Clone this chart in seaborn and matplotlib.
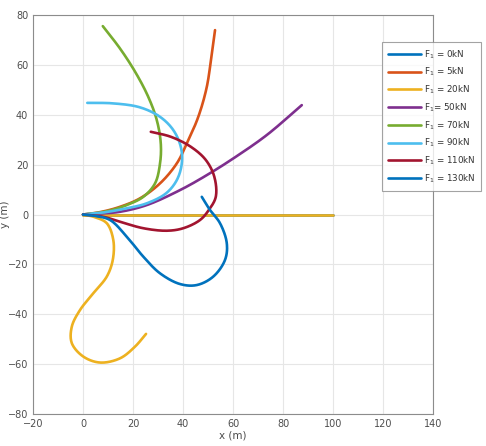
import numpy as np
import pandas as pd
import seaborn as sns
import matplotlib
matplotlib.use("Agg")
import matplotlib.pyplot as plt
from matplotlib.lines import Line2D

labels = ["F$_1$ = 0kN", "F$_1$ = 5kN", "F$_1$ = 20kN", "F$_1$= 50kN",
          "F$_1$ = 70kN", "F$_1$ = 90kN", "F$_1$ = 110kN", "F$_1$ = 130kN"]
colors = ["#0072BD", "#D95319", "#EDB120", "#7E2F8E",
          "#77AC30", "#4DBEEE", "#A2142F", "#0072BD"]

# trajectories (x, y) in metres
x_0 = [0, 100]
y_0 = [0, 0]
x_5 = [0, 7, 14.8, 22.8, 30.8, 37.5, 41.5, 46.1, 49.5, 51.5, 52.8]
y_5 = [0, 1.0, 3.1, 6.5, 12.5, 20.5, 28.5, 39.2, 51.2, 64.6, 74]
# 20 kN: straight part and curved part
x_20a = [0, 100]
y_20a = [0, 0]
x_20b = [0, 4.5, 9.5, 12.1, 11.9, 9.5, 4.1, -1.2, -4.5, -4.5, 0.1, 6.8,
         14.8, 20.8, 25.2]
y_20b = [0, -1.0, -3.5, -10.2, -18.2, -24.9, -31.6, -38.3, -45, -51.6, -57,
         -59.4, -57.7, -53, -47.9]
x_50 = [0, 7, 14.8, 25.5, 38.8, 49.5, 60.1, 73.5, 87.5]
y_50 = [0, 0.4, 1.1, 3.8, 9.8, 15.8, 22.5, 31.9, 43.9]
x_70 = [0, 5.5, 11.5, 17.5, 24.1, 28.8, 30.8, 31.1, 29.5, 26.1, 21.0, 14.8, 7.9]
y_70 = [0, 0.6, 1.8, 3.8, 7.1, 12.5, 20.5, 28.5, 37.9, 47.2, 57.0, 66.6, 75.6]
x_90 = [0, 8, 17.5, 25.5, 33.2, 37.5, 39.5, 39.1, 36.1, 30.8, 22.8, 12.1, 1.7]
y_90 = [0, 0.8, 2.5, 4.5, 8.5, 13.8, 20.5, 27.2, 33.9, 39.2, 43, 44.6, 44.8]
x_110 = [0, 8.1, 14.8, 24.1, 33.5, 40.1, 46.8, 50.3, 53.1, 52.5, 49.1, 43.1,
         35.1, 27.1]
y_110 = [0, -0.9, -2.9, -5.5, -6.5, -5.5, -2.2, 1.8, 7.1, 15.2, 21.9, 27.2,
         31.2, 33.2]
x_130 = [0, 4.5, 10.8, 17.5, 24.1, 30.8, 38.8, 45.5, 52.1, 56.8, 57.5, 54.8,
         50.8, 47.5]
y_130 = [0, -0.5, -2.2, -8.9, -16.9, -23.6, -27.9, -28.3, -24.9, -18.2, -11.5,
         -3.5, 1.8, 7.1]

series = [
    (labels[0], [(x_0, y_0)]),
    (labels[1], [(x_5, y_5)]),
    (labels[2], [(x_20a, y_20a), (x_20b, y_20b)]),
    (labels[3], [(x_50, y_50)]),
    (labels[4], [(x_70, y_70)]),
    (labels[5], [(x_90, y_90)]),
    (labels[6], [(x_110, y_110)]),
    (labels[7], [(x_130, y_130)]),
]


def smooth(xs, ys, per=20):
    """Centripetal Catmull-Rom curve through the read points."""
    pts = np.c_[np.asarray(xs, float), np.asarray(ys, float)]
    if len(pts) < 3:
        return pts[:, 0], pts[:, 1]
    ext = np.vstack([2 * pts[0] - pts[1], pts, 2 * pts[-1] - pts[-2]])
    out = []
    for i in range(1, len(ext) - 2):
        p0, p1, p2, p3 = ext[i - 1], ext[i], ext[i + 1], ext[i + 2]
        t0 = 0.0
        t1 = t0 + max(np.linalg.norm(p1 - p0), 1e-6) ** 0.5
        t2 = t1 + max(np.linalg.norm(p2 - p1), 1e-6) ** 0.5
        t3 = t2 + max(np.linalg.norm(p3 - p2), 1e-6) ** 0.5
        for t in np.linspace(t1, t2, per, endpoint=False):
            a1 = (t1 - t) / (t1 - t0) * p0 + (t - t0) / (t1 - t0) * p1
            a2 = (t2 - t) / (t2 - t1) * p1 + (t - t1) / (t2 - t1) * p2
            a3 = (t3 - t) / (t3 - t2) * p2 + (t - t2) / (t3 - t2) * p3
            b1 = (t2 - t) / (t2 - t0) * a1 + (t - t0) / (t2 - t0) * a2
            b2 = (t3 - t) / (t3 - t1) * a2 + (t - t1) / (t3 - t1) * a3
            c = (t2 - t) / (t2 - t1) * b1 + (t - t1) / (t2 - t1) * b2
            out.append(c)
    out.append(pts[-1])
    out = np.array(out)
    return out[:, 0], out[:, 1]


rows = []
for lab, parts in series:
    for u, (xs, ys) in enumerate(parts):
        sx, sy = smooth(xs, ys)
        for k, (a, b) in enumerate(zip(sx, sy)):
            rows.append({"series": lab, "unit": f"{lab}-{u}", "k": k, "x": a, "y": b})
df = pd.DataFrame(rows)

sns.set_style("white")
plt.rcParams['font.family'] = ['DejaVu Sans']

fig = plt.figure(figsize=(4.86, 4.46), dpi=100)
ax = fig.add_axes([0.068, 0.072, 0.823, 0.894])

sns.lineplot(data=df, x="x", y="y", hue="series", units="unit", estimator=None,
             sort=False, palette=dict(zip(labels, colors)), hue_order=labels,
             linewidth=1.9, legend=False, ax=ax)

ax.set_xlim(-20, 140)
ax.set_ylim(-80, 80)
ax.set_xticks(np.arange(-20, 141, 20))
ax.set_yticks(np.arange(-80, 81, 20))
ax.grid(True, color="#e6e6e6", linewidth=0.8)
ax.set_axisbelow(True)
for sp in ax.spines.values():
    sp.set_color("#8c8c8c")
    sp.set_linewidth(0.8)
ax.tick_params(axis="both", labelsize=7, colors="#8c8c8c", labelcolor="#4d4d4d",
               direction="in", length=3, width=0.6)
ax.tick_params(top=False, right=False)
ax.set_xlabel("x (m)", fontsize=7.5, color="#4d4d4d", labelpad=1)
ax.set_ylabel("y (m)", fontsize=7.5, color="#4d4d4d")
ax.yaxis.set_label_coords(-0.058, 0.5)

handles = [Line2D([0], [0], color=c, lw=1.9) for c in colors]
leg = fig.legend(handles, labels, loc="upper left", bbox_to_anchor=(0.785, 0.906),
                 fontsize=6.3, frameon=True, fancybox=False, handlelength=3.8,
                 handletextpad=0.3, labelspacing=0.6, borderpad=0.7,
                 borderaxespad=0)
leg.get_frame().set_edgecolor("#8c8c8c")
leg.get_frame().set_linewidth(0.8)
for t in leg.get_texts():
    t.set_color("#333333")

fig.savefig("out.png", dpi=100)
